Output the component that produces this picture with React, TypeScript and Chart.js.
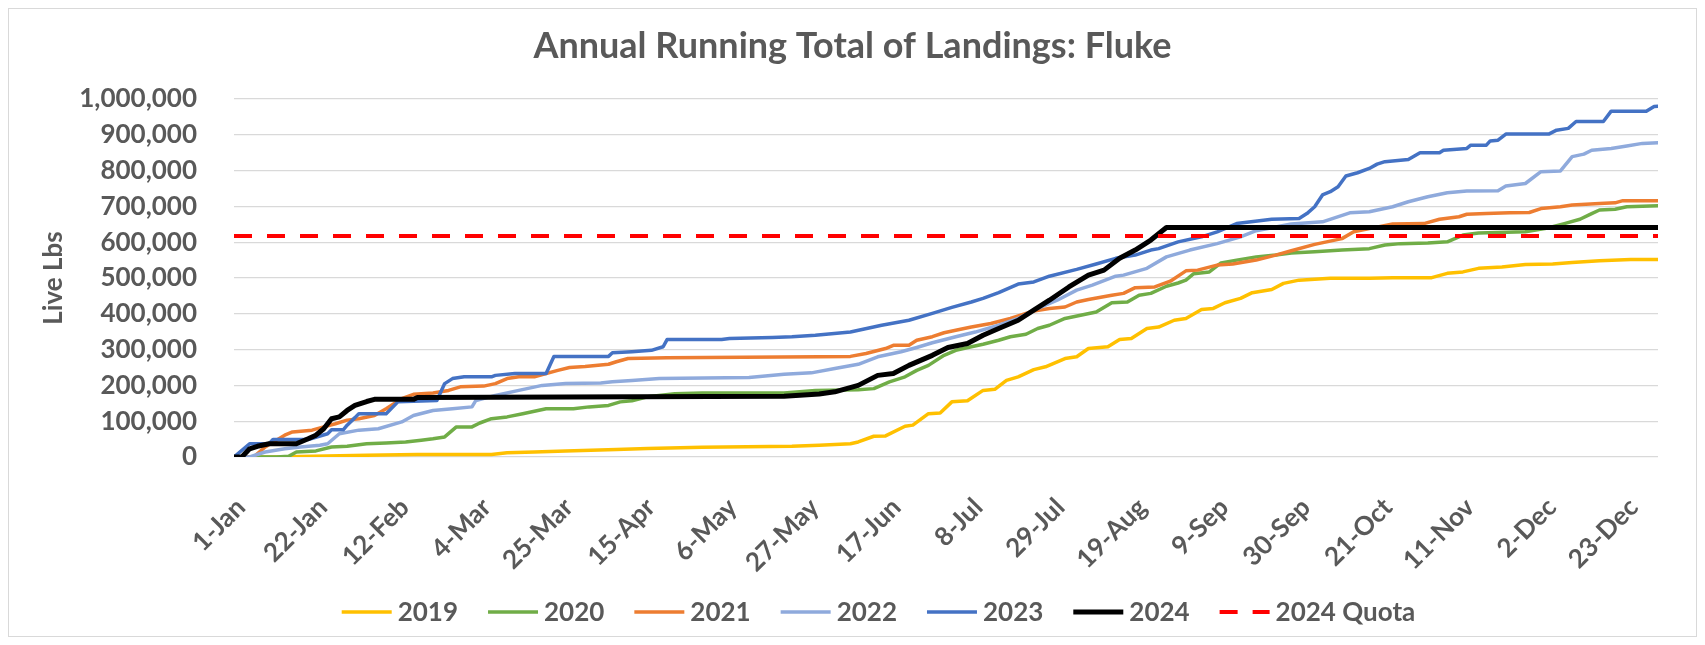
import React, { useEffect, useRef } from 'react';
import { Chart, registerables } from 'chart.js';

Chart.register(...registerables);

const chartTitle = 'Annual Running Total of Landings: Fluke';
const yAxisTitle = 'Live Lbs';

const tickDays = [0, 21, 42, 63, 84, 105, 126, 147, 168, 189, 210, 231, 252, 273, 294, 315, 336, 357];
const tickLabels = ['1-Jan', '22-Jan', '12-Feb', '4-Mar', '25-Mar', '15-Apr', '6-May', '27-May', '17-Jun', '8-Jul', '29-Jul', '19-Aug', '9-Sep', '30-Sep', '21-Oct', '11-Nov', '2-Dec', '23-Dec'];

const seriesNames = ['2019', '2020', '2021', '2022', '2023', '2024', '2024 Quota'];

const d2019 = [0, 10, 34, 47, 66, 70, 77, 85, 98, 106, 120, 143, 150, 158, 160, 164, 167, 172, 174, 178, 181, 184, 188, 192, 195, 198, 201, 205, 208, 213, 216, 219, 224, 227, 230, 234, 237, 241, 244, 248, 251, 254, 258, 261, 266, 269, 273, 281, 291, 297, 307, 311, 315, 319, 325, 331, 338, 343, 350, 358, 365];
const v2019 = [0, 0, 5000, 7000, 7000, 12000, 14000, 17000, 21000, 24000, 27000, 30000, 33000, 37000, 42000, 58000, 59000, 86000, 89000, 121000, 123000, 154000, 157000, 186000, 189000, 214000, 224000, 244000, 252000, 275000, 280000, 303000, 308000, 328000, 331000, 359000, 363000, 382000, 387000, 412000, 415000, 431000, 443000, 459000, 468000, 485000, 494000, 499000, 499000, 501000, 501000, 513000, 517000, 527000, 531000, 538000, 539000, 543000, 548000, 552000, 552000];

const d2020 = [0, 11, 14, 16, 21, 25, 29, 34, 39, 44, 48, 51, 54, 57, 61, 63, 66, 70, 74, 80, 87, 91, 96, 99, 102, 106, 113, 120, 141, 149, 160, 164, 168, 172, 175, 178, 182, 185, 189, 192, 196, 199, 203, 206, 209, 213, 217, 221, 225, 229, 232, 235, 239, 242, 244, 246, 250, 253, 257, 262, 267, 271, 277, 284, 291, 295, 299, 306, 311, 315, 319, 331, 336, 341, 345, 348, 350, 354, 357, 365];
const v2020 = [0, 0, 2000, 14000, 17000, 28000, 30000, 37000, 39000, 42000, 47000, 51000, 56000, 84000, 84000, 95000, 107000, 112000, 121000, 135000, 135000, 140000, 144000, 154000, 157000, 168000, 177000, 179000, 179000, 186000, 188000, 191000, 210000, 224000, 242000, 256000, 284000, 298000, 308000, 315000, 326000, 336000, 343000, 359000, 368000, 387000, 396000, 405000, 431000, 433000, 452000, 457000, 477000, 486000, 494000, 512000, 517000, 542000, 550000, 559000, 564000, 570000, 573000, 578000, 582000, 592000, 596000, 598000, 601000, 620000, 626000, 629000, 638000, 652000, 664000, 680000, 690000, 692000, 699000, 702000];

const d2021 = [0, 5, 8, 13, 15, 20, 23, 26, 29, 32, 36, 39, 43, 46, 51, 55, 58, 64, 67, 70, 73, 77, 83, 86, 90, 96, 98, 101, 111, 150, 158, 162, 167, 169, 173, 175, 179, 182, 185, 189, 194, 199, 205, 209, 213, 216, 219, 225, 228, 231, 236, 240, 244, 247, 252, 256, 262, 267, 271, 277, 284, 287, 291, 297, 305, 309, 314, 316, 321, 327, 332, 335, 340, 343, 350, 354, 356, 365];
const v2021 = [0, 0, 28000, 61000, 70000, 75000, 84000, 93000, 103000, 107000, 116000, 135000, 163000, 175000, 179000, 186000, 196000, 198000, 205000, 219000, 224000, 224000, 242000, 250000, 253000, 259000, 266000, 275000, 277000, 280000, 281000, 289000, 303000, 312000, 312000, 326000, 336000, 347000, 354000, 363000, 373000, 387000, 408000, 415000, 419000, 433000, 440000, 452000, 457000, 473000, 475000, 491000, 520000, 522000, 536000, 539000, 550000, 564000, 576000, 594000, 610000, 629000, 638000, 651000, 652000, 664000, 671000, 678000, 680000, 682000, 683000, 694000, 699000, 704000, 708000, 710000, 716000, 716000];

const d2022 = [0, 4, 8, 13, 17, 22, 24, 27, 32, 37, 43, 46, 51, 56, 61, 62, 67, 73, 79, 85, 94, 97, 102, 109, 132, 141, 148, 154, 160, 165, 171, 175, 179, 185, 190, 196, 201, 205, 211, 216, 220, 226, 228, 234, 239, 245, 252, 258, 262, 271, 279, 286, 291, 297, 301, 306, 311, 316, 324, 326, 331, 335, 340, 343, 346, 348, 353, 357, 361, 365];
const v2022 = [0, 0, 14000, 23000, 28000, 33000, 37000, 65000, 75000, 79000, 98000, 116000, 130000, 135000, 140000, 158000, 172000, 186000, 200000, 205000, 207000, 210000, 214000, 219000, 222000, 231000, 235000, 247000, 259000, 280000, 294000, 306000, 319000, 336000, 349000, 368000, 387000, 410000, 438000, 466000, 480000, 505000, 508000, 527000, 559000, 578000, 596000, 615000, 632000, 651000, 657000, 682000, 685000, 699000, 713000, 727000, 738000, 743000, 744000, 757000, 764000, 797000, 799000, 839000, 846000, 857000, 862000, 869000, 876000, 878000];

const d2023 = [0, 4, 9, 10, 19, 24, 25, 28, 29, 31, 32, 39, 42, 52, 54, 56, 59, 66, 67, 72, 80, 82, 96, 97, 102, 107, 110, 111, 125, 127, 138, 143, 149, 158, 166, 173, 179, 184, 189, 192, 196, 201, 205, 209, 216, 221, 226, 231, 235, 237, 242, 248, 252, 257, 266, 273, 275, 277, 279, 281, 283, 285, 288, 291, 293, 295, 299, 301, 304, 309, 310, 316, 317, 321, 322, 324, 326, 337, 339, 342, 344, 351, 353, 362, 364, 365];
const v2023 = [0, 37000, 37000, 49000, 49000, 65000, 76000, 76000, 89000, 110000, 121000, 121000, 154000, 158000, 205000, 219000, 224000, 224000, 228000, 233000, 233000, 281000, 281000, 291000, 294000, 298000, 308000, 328000, 328000, 331000, 334000, 336000, 340000, 349000, 368000, 382000, 401000, 418000, 433000, 443000, 459000, 483000, 489000, 505000, 524000, 539000, 555000, 564000, 578000, 582000, 601000, 615000, 629000, 652000, 664000, 666000, 680000, 699000, 732000, 741000, 755000, 785000, 794000, 806000, 818000, 825000, 829000, 831000, 850000, 850000, 857000, 862000, 871000, 871000, 883000, 885000, 902000, 902000, 913000, 918000, 937000, 937000, 966000, 966000, 979000, 980000];

const d2024 = [0, 2, 4, 6, 9, 16, 19, 21, 23, 25, 27, 29, 31, 34, 36, 46, 47, 141, 150, 154, 160, 165, 169, 173, 179, 183, 188, 192, 196, 201, 205, 209, 214, 219, 223, 227, 231, 235, 239, 365];
const v2024 = [0, 0, 23000, 30000, 37000, 37000, 51000, 61000, 79000, 107000, 112000, 130000, 144000, 155000, 161000, 161000, 166000, 170000, 176000, 182000, 200000, 228000, 233000, 256000, 284000, 306000, 317000, 340000, 359000, 382000, 410000, 438000, 475000, 508000, 522000, 555000, 578000, 606000, 641000, 641000];

const dQuota = [0, 365];
const vQuota = [617000, 617000];

const TEXT = '#595959';
const FONT = 'Lato';

const toPoints = (days: number[], vals: number[]) => days.map((d, i) => ({ x: d, y: vals[i] }));

const titlePlugin = {
  id: 'excelTitle',
  afterDraw(chart: any) {
    const ctx = chart.ctx;
    ctx.save();
    ctx.font = `bold 36px ${FONT}`;
    ctx.fillStyle = TEXT;
    ctx.textAlign = 'center';
    ctx.textBaseline = 'alphabetic';
    ctx.fillText(chartTitle, chart.width / 2, 49);
    ctx.restore();
  },
};

const legendPlugin = {
  id: 'excelLegend',
  afterDraw(chart: any) {
    const ctx = chart.ctx;
    ctx.save();
    ctx.font = `bold 26px ${FONT}`;
    const lineLen = 50;
    const gap = 6;
    const spacing = 30;
    const items = chart.data.datasets.map((ds: any) => ({
      label: ds.label,
      color: ds.borderColor,
      width: ds.borderWidth,
      dash: ds.borderDash || [],
      tw: ctx.measureText(ds.label).width,
    }));
    const total = items.reduce((s: number, it: any) => s + lineLen + gap + it.tw, 0) + spacing * (items.length - 1);
    let x = chart.width / 2 - total / 2 + 26;
    const y = 603;
    for (const it of items) {
      ctx.beginPath();
      ctx.setLineDash(it.dash);
      ctx.strokeStyle = it.color;
      ctx.lineWidth = it.width;
      ctx.lineCap = 'butt';
      ctx.moveTo(x, y);
      ctx.lineTo(x + lineLen, y);
      ctx.stroke();
      ctx.setLineDash([]);
      ctx.fillStyle = TEXT;
      ctx.textAlign = 'left';
      ctx.textBaseline = 'middle';
      ctx.fillText(it.label, x + lineLen + gap, y + 1);
      x += lineLen + gap + it.tw + spacing;
    }
    ctx.restore();
  },
};

export default function App() {
  const canvasRef = useRef<HTMLCanvasElement | null>(null);

  useEffect(() => {
    if (!canvasRef.current) return;
    const mk = (label: string, days: number[], vals: number[], color: string, width: number, order: number, dash?: number[]) => ({
      label,
      data: toPoints(days, vals),
      borderColor: color,
      backgroundColor: color,
      borderWidth: width,
      borderDash: dash,
      borderCapStyle: dash ? 'butt' : 'round',
      borderJoinStyle: 'round',
      pointRadius: 0,
      pointHoverRadius: 0,
      tension: 0,
      fill: false,
      order,
    });
    const chart = new Chart(canvasRef.current, {
      type: 'line',
      data: {
        datasets: [
          mk(seriesNames[0], d2019, v2019, '#FFC000', 3.5, 6),
          mk(seriesNames[1], d2020, v2020, '#70AD47', 3.5, 5),
          mk(seriesNames[2], d2021, v2021, '#ED7D31', 3.5, 4),
          mk(seriesNames[3], d2022, v2022, '#8FAADC', 3.5, 3),
          mk(seriesNames[4], d2023, v2023, '#4472C4', 3.5, 2),
          mk(seriesNames[5], d2024, v2024, '#000000', 5, 1),
          mk(seriesNames[6], dQuota, vQuota, '#FF0000', 4, 0, [18, 15]),
        ] as any,
      },
      options: {
        animation: false,
        responsive: false,
        events: [],
        layout: { padding: { left: 0, right: 38, top: 90, bottom: 0 } },
        plugins: {
          legend: { display: false },
          title: { display: false },
          tooltip: { enabled: false },
        },
        scales: {
          x: {
            type: 'linear',
            min: 0,
            max: 365,
            afterBuildTicks: (scale: any) => {
              scale.ticks = tickDays.map((v) => ({ value: v }));
            },
            afterFit: (scale: any) => {
              scale.height = 179;
            },
            grid: { display: false },
            border: { display: false },
            ticks: {
              autoSkip: false,
              maxRotation: 45,
              minRotation: 45,
              padding: 27,
              labelOffset: 7,
              color: TEXT,
              font: { family: FONT, size: 26, weight: 'bold' },
              callback: (v: any) => {
                const i = tickDays.indexOf(Number(v));
                return i >= 0 ? tickLabels[i] : '';
              },
            },
          },
          y: {
            min: 0,
            max: 1000000,
            afterFit: (scale: any) => {
              scale.width = 225;
            },
            grid: { color: '#D9D9D9', lineWidth: 1.3, drawTicks: false },
            border: { display: false },
            ticks: {
              stepSize: 100000,
              padding: 37,
              color: TEXT,
              font: { family: FONT, size: 26, weight: 'bold' },
              callback: (v: any) => Number(v).toLocaleString('en-US'),
            },
            title: {
              display: true,
              text: yAxisTitle,
              color: TEXT,
              font: { family: FONT, size: 26, weight: 'bold' },
              padding: { top: 29, bottom: 0 },
            },
          },
        },
      } as any,
      plugins: [titlePlugin, legendPlugin],
    });
    return () => chart.destroy();
  }, []);

  return (
    <div
      style={{
        width: 1689,
        height: 629,
        border: '1px solid #D9D9D9',
        boxSizing: 'border-box',
        background: '#fff',
      }}
    >
      <canvas ref={canvasRef} width={1687} height={627} style={{ display: 'block', width: 1687, height: 627 }} />
    </div>
  );
}
